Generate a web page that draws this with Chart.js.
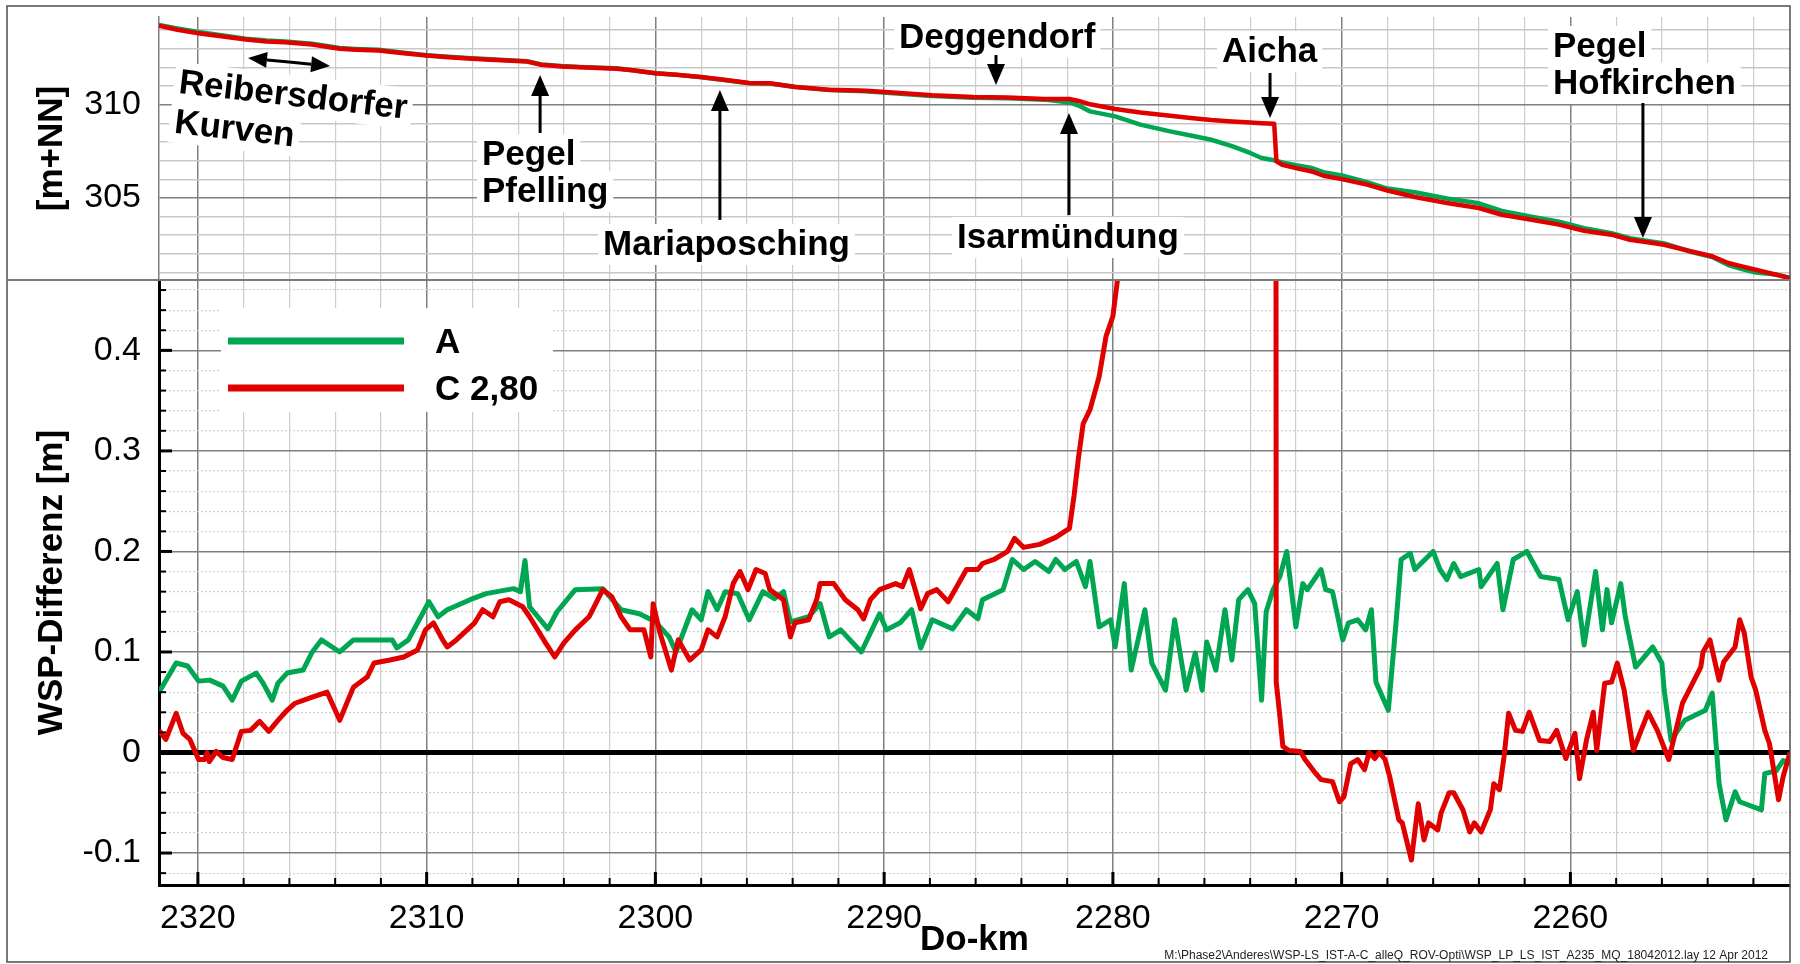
<!DOCTYPE html>
<html>
<head>
<meta charset="utf-8">
<title>WSP-Längsschnitt Donau</title>
<script src="https://cdn.jsdelivr.net/npm/chart.js@4.4.1/dist/chart.umd.min.js"></script>
<style>
  html, body { margin: 0; padding: 0; background: #fff; }
  #wrap { position: relative; width: 1800px; height: 964px; }
</style>
</head>
<body>
<div id="wrap"><canvas id="wspChart" width="1800" height="964"></canvas></div>
<script>
// Oberer Teil: Wasserspiegel [m+NN], unterer Teil: WSP-Differenz [m] je Variante

// --- Wasserspiegel (oben) ---
const levelKm = [
  2321.7, 2320.9, 2319.9, 2317.9, 2317.0, 2316.2, 2315.0, 2313.8, 2313.1, 2312.1,
  2311.1, 2310.0, 2309.2, 2308.2, 2307.2, 2305.6, 2305.0, 2304.1, 2303.3, 2301.7,
  2301.0, 2300.0, 2299.1, 2298.0, 2297.0, 2295.9, 2295.0, 2293.9, 2292.4, 2290.8,
  2289.3, 2287.9, 2286.1, 2284.6, 2283.0, 2281.9, 2281.5, 2281.0, 2279.9, 2278.8,
  2277.5, 2276.6, 2275.7, 2274.8, 2274.0, 2273.5, 2272.95, 2272.85, 2272.6, 2272.0,
  2271.3, 2270.8, 2270.0, 2269.0, 2268.0, 2266.8, 2265.4, 2264.0, 2263.0, 2261.7,
  2260.5, 2259.4, 2258.2, 2257.4, 2256.4, 2255.9, 2254.7, 2253.8, 2253.1, 2252.5,
  2251.9, 2251.0, 2250.4
];
const levelA = [
  314.28, 314.09, 313.88, 313.54, 313.44, 313.39, 313.27, 313.04, 312.99, 312.94,
  312.80, 312.65, 312.58, 312.50, 312.43, 312.33, 312.16, 312.07, 312.02, 311.95,
  311.85, 311.68, 311.61, 311.47, 311.32, 311.15, 311.14, 310.96, 310.78, 310.72,
  310.59, 310.46, 310.37, 310.34, 310.27, 310.12, 309.95, 309.64, 309.37, 308.93,
  308.57, 308.35, 308.12, 307.78, 307.41, 307.14, 307.02, 306.99, 306.90, 306.75,
  306.60, 306.38, 306.20, 305.88, 305.50, 305.30, 304.97, 304.71, 304.30, 303.99,
  303.72, 303.38, 303.11, 302.84, 302.65, 302.56, 302.10, 301.83, 301.40, 301.18,
  301.00, 300.90, 300.70
];
const levelC = [
  314.24, 314.02, 313.81, 313.49, 313.39, 313.34, 313.22, 313.00, 312.95, 312.90,
  312.77, 312.63, 312.56, 312.48, 312.41, 312.31, 312.14, 312.05, 312.00, 311.93,
  311.84, 311.68, 311.60, 311.48, 311.34, 311.16, 311.15, 310.95, 310.80, 310.75,
  310.63, 310.50, 310.41, 310.38, 310.31, 310.30, 310.20, 310.02, 309.77, 309.58,
  309.40, 309.29, 309.18, 309.10, 309.04, 309.01, 308.98, 306.96, 306.78, 306.60,
  306.42, 306.19, 306.01, 305.75, 305.40, 305.05, 304.73, 304.46, 304.10, 303.83,
  303.57, 303.24, 303.03, 302.76, 302.58, 302.49, 302.13, 301.87, 301.51, 301.33,
  301.15, 300.88, 300.71
];

// --- WSP-Differenz (unten) ---
const diffKmA = [
  2321.7, 2320.95, 2320.45, 2319.97, 2319.48, 2318.9, 2318.5, 2318.1, 2317.45, 2317.15,
  2316.75, 2316.5, 2316.1, 2315.4, 2315.0, 2314.6, 2313.8, 2313.2, 2311.5, 2311.3,
  2310.8, 2309.9, 2309.5, 2309.1, 2308.1, 2307.4, 2306.2, 2305.9, 2305.7, 2305.5,
  2304.7, 2304.3, 2303.5, 2302.3, 2301.5, 2300.7, 2300.0, 2299.4, 2299.1, 2298.4,
  2298.0, 2297.7, 2297.3, 2296.95, 2296.4, 2295.9, 2295.3, 2294.8, 2294.4, 2294.1,
  2293.3, 2292.8, 2292.4, 2291.9, 2291.0, 2290.2, 2289.9, 2289.3, 2288.8, 2288.4,
  2287.9, 2287.0, 2286.4, 2285.9, 2285.7, 2284.8, 2284.4, 2283.9, 2283.4, 2282.8,
  2282.5, 2282.1, 2281.6, 2281.2, 2281.0, 2280.6, 2280.1, 2279.9, 2279.5, 2279.2,
  2278.6, 2278.3, 2277.7, 2277.3, 2276.8, 2276.4, 2276.1, 2275.9, 2275.5, 2275.1,
  2274.8, 2274.5, 2274.1, 2273.8, 2273.5, 2273.3, 2273.0, 2272.7, 2272.4, 2272.0,
  2271.7, 2271.5, 2270.9, 2270.7, 2270.4, 2269.95, 2269.7, 2269.3, 2268.95, 2268.7,
  2268.5, 2267.96, 2267.6, 2267.4, 2267.0, 2266.8, 2266.0, 2265.7, 2265.4, 2265.1,
  2264.8, 2264.0, 2263.9, 2263.2, 2262.95, 2262.5, 2261.9, 2261.3, 2260.5, 2260.1,
  2259.7, 2259.4, 2258.9, 2258.6, 2258.4, 2258.2, 2257.8, 2257.6, 2257.15, 2256.4,
  2256.0, 2255.9, 2255.6, 2255.0, 2254.1, 2253.8, 2253.5, 2253.2, 2252.8, 2252.6,
  2251.65, 2251.5, 2251.0, 2250.7, 2250.4
];
const diffA = [
  0.060, 0.089, 0.086, 0.071, 0.072, 0.066, 0.052, 0.071, 0.079, 0.069,
  0.052, 0.069, 0.079, 0.082, 0.100, 0.112, 0.100, 0.112, 0.112, 0.104,
  0.112, 0.150, 0.135, 0.142, 0.152, 0.158, 0.163, 0.160, 0.191, 0.145,
  0.123, 0.140, 0.162, 0.163, 0.142, 0.138, 0.130, 0.115, 0.100, 0.142,
  0.132, 0.160, 0.142, 0.160, 0.158, 0.132, 0.160, 0.153, 0.160, 0.130,
  0.135, 0.148, 0.115, 0.122, 0.100, 0.138, 0.122, 0.129, 0.142, 0.104,
  0.132, 0.123, 0.142, 0.133, 0.152, 0.162, 0.192, 0.182, 0.190, 0.180,
  0.192, 0.182, 0.190, 0.165, 0.190, 0.125, 0.132, 0.105, 0.168, 0.082,
  0.142, 0.089, 0.062, 0.132, 0.062, 0.099, 0.062, 0.110, 0.082, 0.142,
  0.092, 0.152, 0.162, 0.148, 0.052, 0.140, 0.162, 0.175, 0.200, 0.125,
  0.168, 0.162, 0.182, 0.162, 0.160, 0.112, 0.129, 0.132, 0.122, 0.142,
  0.070, 0.042, 0.135, 0.192, 0.198, 0.182, 0.200, 0.182, 0.172, 0.188,
  0.175, 0.182, 0.165, 0.188, 0.142, 0.192, 0.200, 0.175, 0.172, 0.132,
  0.160, 0.107, 0.180, 0.122, 0.162, 0.129, 0.168, 0.135, 0.085, 0.105,
  0.089, 0.062, 0.012, 0.032, 0.042, 0.059, -0.031, -0.067, -0.039, -0.049,
  -0.057, -0.021, -0.018, -0.008, -0.011
];
const diffKmC = [
  2321.7, 2321.4, 2320.95, 2320.65, 2320.35, 2319.97, 2319.7, 2319.6, 2319.5, 2319.2,
  2318.9, 2318.5, 2318.1, 2317.7, 2317.3, 2316.9, 2316.5, 2316.1, 2315.75, 2315.0,
  2314.35, 2313.8, 2313.2, 2312.6, 2312.3, 2311.6, 2311.0, 2310.4, 2310.05, 2309.7,
  2309.3, 2309.1, 2308.7, 2307.9, 2307.55, 2307.1, 2306.8, 2306.4, 2305.8, 2305.5,
  2304.8, 2304.4, 2304.0, 2303.5, 2302.9, 2302.3, 2301.9, 2301.5, 2301.1, 2300.5,
  2300.2, 2300.1, 2299.8, 2299.3, 2299.0, 2298.5, 2298.0, 2297.7, 2297.3, 2296.95,
  2296.6, 2296.3, 2295.95, 2295.6, 2295.2, 2295.0, 2294.4, 2294.1, 2293.9, 2293.3,
  2292.95, 2292.8, 2292.2, 2291.7, 2291.15, 2290.9, 2290.6, 2290.2, 2289.5, 2289.2,
  2288.9, 2288.4, 2288.1, 2287.7, 2287.2, 2286.4, 2285.9, 2285.7, 2285.2, 2284.6,
  2284.3, 2283.9, 2283.2, 2282.5, 2281.9, 2281.7, 2281.5, 2281.3, 2281.0, 2280.6,
  2280.3, 2280.0, 2279.8, 2279.5, 2279.0, 2278.0, 2276.6, 2275.0, 2273.0, 2272.9,
  2272.86, 2272.7, 2272.57, 2272.3, 2271.8, 2271.6, 2271.2, 2270.9, 2270.4, 2270.1,
  2269.9, 2269.6, 2269.3, 2269.0, 2268.8, 2268.55, 2268.35, 2268.1, 2267.9, 2267.5,
  2267.35, 2266.95, 2266.65, 2266.4, 2266.2, 2265.8, 2265.65, 2265.3, 2265.1, 2264.7,
  2264.4, 2264.2, 2263.9, 2263.5, 2263.35, 2263.1, 2262.9, 2262.7, 2262.4, 2262.1,
  2261.8, 2261.35, 2260.9, 2260.6, 2260.2, 2259.8, 2259.6, 2259.3, 2259.0, 2258.85,
  2258.5, 2258.2, 2257.95, 2257.65, 2257.25, 2256.6, 2256.2, 2255.7, 2255.1, 2254.3,
  2254.2, 2253.9, 2253.5, 2253.3, 2252.8, 2252.6, 2252.4, 2252.1, 2251.9, 2251.5,
  2251.3, 2250.9, 2250.7, 2250.4
];
const diffC = [
  0.022, 0.013, 0.039, 0.019, 0.013, -0.007, -0.007, 0.000, -0.009, 0.001,
  -0.005, -0.007, 0.021, 0.022, 0.031, 0.021, 0.032, 0.042, 0.049, 0.055,
  0.060, 0.032, 0.065, 0.075, 0.089, 0.092, 0.095, 0.102, 0.122, 0.129,
  0.112, 0.105, 0.112, 0.129, 0.142, 0.135, 0.150, 0.152, 0.145, 0.135,
  0.109, 0.095, 0.109, 0.122, 0.135, 0.162, 0.155, 0.135, 0.122, 0.122,
  0.095, 0.148, 0.119, 0.082, 0.112, 0.092, 0.102, 0.122, 0.115, 0.135,
  0.168, 0.180, 0.162, 0.182, 0.178, 0.162, 0.152, 0.115, 0.129, 0.132,
  0.152, 0.168, 0.168, 0.152, 0.142, 0.133, 0.152, 0.162, 0.168, 0.165,
  0.182, 0.143, 0.158, 0.162, 0.150, 0.182, 0.182, 0.188, 0.192, 0.200,
  0.213, 0.204, 0.207, 0.214, 0.223, 0.255, 0.294, 0.327, 0.341, 0.374,
  0.414, 0.434, 0.470, 0.560, 0.720, 0.980, 1.260, 1.550, 1.950, 1.950,
  0.070, 0.036, 0.006, 0.002, 0.001, -0.007, -0.019, -0.027, -0.029, -0.049,
  -0.044, -0.011, -0.007, -0.017, 0.000, -0.006, 0.000, -0.007, -0.024, -0.067,
  -0.070, -0.107, -0.051, -0.087, -0.070, -0.077, -0.060, -0.040, -0.040, -0.057,
  -0.079, -0.070, -0.079, -0.057, -0.031, -0.037, -0.004, 0.039, 0.022, 0.021,
  0.040, 0.012, 0.011, 0.022, -0.006, 0.019, -0.026, 0.012, 0.040, 0.002,
  0.069, 0.070, 0.089, 0.062, 0.002, 0.040, 0.022, -0.007, 0.049, 0.085,
  0.100, 0.112, 0.072, 0.090, 0.105, 0.132, 0.119, 0.075, 0.062, 0.022,
  0.009, -0.047, -0.024, 0.000
];

const seriesNames = ['A', 'C 2,80'];

// Ortsangaben im oberen Teil (km / m+NN)
const places = [
  { lines: ['Pegel', 'Pfelling'],   km: 2307.58, lvl: 306.76 },
  { lines: ['Mariaposching'],       km: 2302.29, lvl: 301.94 },
  { lines: ['Deggendorf'],          km: 2289.35, lvl: 313.04 },
  { lines: ['Isarmündung'],         km: 2286.81, lvl: 302.31 },
  { lines: ['Aicha'],               km: 2275.23, lvl: 312.29 },
  { lines: ['Pegel', 'Hofkirchen'], km: 2260.76, lvl: 312.56 },
];
const pointers = [
  { km: 2305.04, from: 308.48, to: 311.59 },
  { km: 2297.18, from: 303.82, to: 310.79 },
  { km: 2285.11, from: 312.66, to: 311.05 },
  { km: 2281.92, from: 304.08, to: 309.55 },
  { km: 2273.13, from: 311.70, to: 309.28 },
  { km: 2256.83, from: 310.09, to: 302.85 },
];
const kurven = { lines: ['Reibersdorfer', 'Kurven'], km: 2320.87, lvl: 310.63, span: [[2317.81, 312.50], [2314.22, 312.07]] };

const footText = 'M:\\Phase2\\Anderes\\WSP-LS_IST-A-C_alleQ_ROV-Opti\\WSP_LP_LS_IST_A235_MQ_18042012.lay 12 Apr 2012';

const GREEN = '#00a651';
const RED = '#e00000';
const FONT = '"Liberation Sans", Arial, Helvetica, sans-serif';
const TOP_H = 263, BOT_H = 605;   // panel heights (px)

const range = (a, b, s) => { const out = []; for (let i = 0; a + i * s <= b + 1e-9; i++) out.push(Math.round((a + i * s) * 1000) / 1000); return out; };
const kmTicks = range(2252, 2320, 2);
const diffTicks = range(-0.12, 0.46, 0.02);
const levelTicks = range(301, 314, 1);

const pairs = (xs, ys) => xs.map((x, i) => ({ x, y: ys[i] }));
const isTenKm = v => Math.round(v) % 10 === 0;
const isTenth = v => Math.abs(Math.round(v * 100)) % 10 === 0;
const isZero = v => Math.abs(v) < 1e-6;

function arrow(ctx, x1, y1, x2, y2, head, half) {
  const a = Math.atan2(y2 - y1, x2 - x1);
  const bx = x2 - head * Math.cos(a), by = y2 - head * Math.sin(a);
  ctx.beginPath(); ctx.moveTo(x1, y1); ctx.lineTo(bx, by); ctx.stroke();
  ctx.beginPath(); ctx.moveTo(x2, y2);
  ctx.lineTo(bx + half * Math.sin(a), by - half * Math.cos(a));
  ctx.lineTo(bx - half * Math.sin(a), by + half * Math.cos(a));
  ctx.closePath(); ctx.fill();
}

function textBlock(ctx, lines, x, y, gap) {
  ctx.font = 'bold 35px ' + FONT;
  ctx.textAlign = 'left'; ctx.textBaseline = 'alphabetic';
  ctx.fillStyle = '#fff';
  lines.forEach((t, i) => ctx.fillRect(x - 5, y + i * gap - 31, ctx.measureText(t).width + 10, 41));
  ctx.fillStyle = '#000';
  lines.forEach((t, i) => ctx.fillText(t, x, y + i * gap));
}

const decorPlugin = {
  id: 'decor',
  afterDraw(chart) {
    const { ctx, chartArea: area, scales } = chart;
    const { x: sx, yTop, yBot } = scales;
    ctx.save();

    // inward ticks bottom panel
    ctx.strokeStyle = '#000';
    yBot.ticks.forEach(t => {
      const y = yBot.getPixelForValue(t.value);
      ctx.lineWidth = isTenth(t.value) ? 3 : 2;
      ctx.beginPath(); ctx.moveTo(area.left, y); ctx.lineTo(area.left + (isTenth(t.value) ? 13 : 7), y); ctx.stroke();
    });
    sx.ticks.forEach(t => {
      const x = sx.getPixelForValue(t.value);
      ctx.lineWidth = isTenKm(t.value) ? 3 : 2;
      ctx.beginPath(); ctx.moveTo(x, area.bottom); ctx.lineTo(x, area.bottom - (isTenKm(t.value) ? 13 : 7)); ctx.stroke();
    });

    // frame and panel divider
    ctx.strokeStyle = '#4d4d4d'; ctx.lineWidth = 1.5;
    ctx.strokeRect(7, 6, area.right - 7, 956);
    ctx.strokeStyle = '#7a7a7a'; ctx.lineWidth = 2;
    ctx.beginPath(); ctx.moveTo(7, yBot.top); ctx.lineTo(area.right, yBot.top); ctx.stroke();

    // place names with arrows
    places.forEach(p => textBlock(ctx, p.lines, sx.getPixelForValue(p.km), yTop.getPixelForValue(p.lvl), 37));
    ctx.fillStyle = '#000'; ctx.strokeStyle = '#000'; ctx.lineWidth = 3;
    pointers.forEach(p => {
      const x = sx.getPixelForValue(p.km);
      arrow(ctx, x, yTop.getPixelForValue(p.from), x, yTop.getPixelForValue(p.to), 21, 9);
    });

    // Reibersdorfer Kurven (tilted) with double arrow
    ctx.save();
    ctx.translate(sx.getPixelForValue(kurven.km), yTop.getPixelForValue(kurven.lvl));
    ctx.rotate(6.5 * Math.PI / 180);
    textBlock(ctx, kurven.lines, 0, 0, 40);
    ctx.restore();
    const [p1, p2] = kurven.span.map(([k, l]) => [sx.getPixelForValue(k), yTop.getPixelForValue(l)]);
    const mx = (p1[0] + p2[0]) / 2, my = (p1[1] + p2[1]) / 2;
    ctx.fillStyle = '#000'; ctx.strokeStyle = '#000'; ctx.lineWidth = 3;
    arrow(ctx, mx, my, p1[0], p1[1], 19, 8);
    arrow(ctx, mx, my, p2[0], p2[1], 19, 8);

    // legend
    const ds = chart.data.datasets;
    ctx.fillStyle = '#fff';
    ctx.fillRect(221, 308, 332, 104);
    ctx.lineWidth = 7; ctx.lineCap = 'butt';
    [[ds[2], 341, 353], [ds[3], 388, 400]].forEach(([d, ly, ty]) => {
      ctx.strokeStyle = d.borderColor;
      ctx.beginPath(); ctx.moveTo(228, ly); ctx.lineTo(404, ly); ctx.stroke();
      ctx.fillStyle = '#000'; ctx.font = 'bold 35px ' + FONT; ctx.textAlign = 'left';
      ctx.fillText(d.label, 435, ty);
    });

    // file note
    ctx.font = '12px ' + FONT; ctx.textAlign = 'right'; ctx.fillStyle = '#222';
    ctx.fillText(footText, 1768, 959);
    ctx.restore();
  }
};

// each dataset is clipped to its own panel (scale area) by Chart.js
const lineBase = { pointRadius: 0, tension: 0, borderJoinStyle: 'round', fill: false, clip: 0 };

new Chart(document.getElementById('wspChart'), {
  type: 'line',
  data: {
    datasets: [
      { ...lineBase, label: seriesNames[0], data: pairs(levelKm, levelA), yAxisID: 'yTop', borderColor: GREEN, borderWidth: 4.5, order: 3 },
      { ...lineBase, label: seriesNames[1], data: pairs(levelKm, levelC), yAxisID: 'yTop', borderColor: RED, borderWidth: 4.5, order: 2 },
      { ...lineBase, label: seriesNames[0], data: pairs(diffKmA, diffA), yAxisID: 'yBot', borderColor: GREEN, borderWidth: 5, order: 1 },
      { ...lineBase, label: seriesNames[1], data: pairs(diffKmC, diffC), yAxisID: 'yBot', borderColor: RED, borderWidth: 5, order: 0 },
    ]
  },
  options: {
    responsive: false,
    animation: false,
    devicePixelRatio: 1,
    layout: { padding: { left: 9, right: 10, top: 17, bottom: 0 } },
    plugins: { legend: { display: false }, tooltip: { enabled: false } },
    scales: {
      x: {
        type: 'linear', reverse: true, bounds: 'data', min: 2250.4, max: 2321.7,
        afterBuildTicks: s => { s.ticks = kmTicks.map(v => ({ value: v })); },
        afterFit: s => { s.height = 79; s.paddingLeft = 0; s.paddingRight = 0; },
        ticks: { autoSkip: false, maxRotation: 0, padding: 13, color: '#000', font: { family: FONT, size: 34 },
                 callback: v => (isTenKm(v) ? String(Math.round(v)) : '') },
        grid: { drawTicks: false,
                color: c => (c.tick && isTenKm(c.tick.value) ? '#7f7f7f' : '#cdcdcd'),
                lineWidth: c => (c.tick && isTenKm(c.tick.value) ? 1.5 : 1.2) },
        border: { color: '#000', width: 3 },
        title: { display: true, text: 'Do-km', color: '#000', font: { family: FONT, size: 35, weight: 'bold' }, padding: { top: 0, bottom: 3 } }
      },
      yBot: {
        type: 'linear', position: 'left', stack: 'panels', stackWeight: BOT_H, weight: 0,
        bounds: 'data', min: -0.1318, max: 0.47,
        afterBuildTicks: s => { s.ticks = diffTicks.map(v => ({ value: v })); },
        afterFit: s => { s.width = 150; s.paddingTop = 0; s.paddingBottom = 0; },
        ticks: { autoSkip: false, padding: 18, color: '#000', font: { family: FONT, size: 34 },
                 callback: v => (isTenth(v) ? String(Math.round(v * 10) / 10) : '') },
        grid: { drawTicks: false,
                color: c => (!c.tick || isZero(c.tick.value) ? '#000' : isTenth(c.tick.value) ? '#7f7f7f' : '#cfcfcf'),
                lineWidth: c => (!c.tick ? 1 : isZero(c.tick.value) ? 5 : isTenth(c.tick.value) ? 1.5 : 1.2) },
        border: { color: '#000', width: 3, dash: c => (c.tick && !isTenth(c.tick.value) ? [2, 2] : []) },
        title: { display: true, text: 'WSP-Differenz [m]', color: '#000', font: { family: FONT, size: 35, weight: 'bold' }, padding: { top: 22, bottom: 0 } }
      },
      yTop: {
        type: 'linear', position: 'left', stack: 'panels', stackWeight: TOP_H, weight: 1,
        bounds: 'data', min: 300.6, max: 314.7,
        afterBuildTicks: s => { s.ticks = levelTicks.map(v => ({ value: v })); },
        afterFit: s => { s.width = 150; s.paddingTop = 0; s.paddingBottom = 0; },
        ticks: { autoSkip: false, padding: 18, color: '#000', font: { family: FONT, size: 34 },
                 callback: v => (Math.round(v) % 5 === 0 ? String(Math.round(v)) : '') },
        grid: { drawTicks: false,
                color: c => (c.tick && Math.round(c.tick.value) % 5 === 0 ? '#7f7f7f' : '#c8c8c8'),
                lineWidth: 1.5 },
        border: { color: '#7f7f7f', width: 1.5 },
        title: { display: true, text: '[m+NN]', color: '#000', font: { family: FONT, size: 35, weight: 'bold' }, padding: { top: 22, bottom: 0 } }
      }
    }
  },
  plugins: [decorPlugin]
});
</script>
</body>
</html>
